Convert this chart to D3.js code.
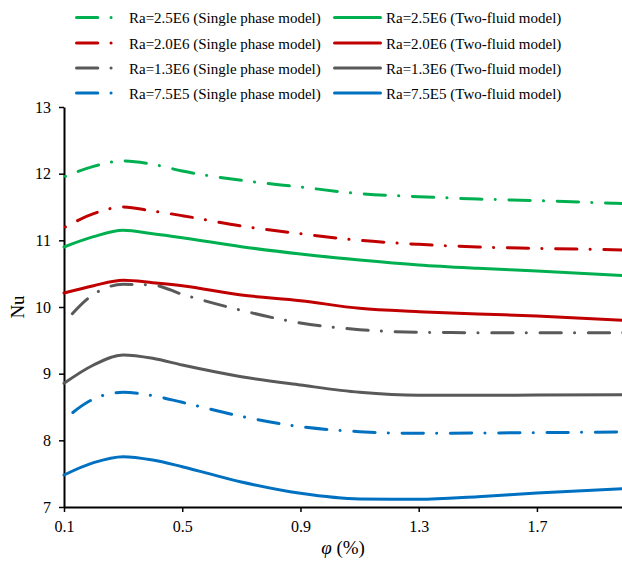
<!DOCTYPE html>
<html>
<head>
<meta charset="utf-8">
<script src="https://cdn.jsdelivr.net/npm/d3@7"></script>
<style>
  body { margin: 0; background: #fff; }
  svg { display: block; }
  text { font-family: "Liberation Serif", "Times New Roman", serif; fill: #000; }
</style>
</head>
<body>
<svg id="chart" width="622" height="562"></svg>
<script>
// Volume fraction (%) at which Nu was evaluated
const phi = [0.1, 0.2, 0.3, 0.4, 0.5, 0.7, 0.9, 1.1, 1.3, 1.5, 1.7, 2.0];

// Single phase model
const single25E6 = [11.95, 12.11, 12.19, 12.14, 12.04, 11.90, 11.80, 11.70, 11.655, 11.62, 11.595, 11.55];
const single20E6 = [11.19, 11.40, 11.50, 11.44, 11.37, 11.215, 11.10, 11.00, 10.94, 10.90, 10.88, 10.855];
const single13E6 = [9.76, 10.19, 10.34, 10.33, 10.19, 9.95, 9.76, 9.66, 9.62, 9.615, 9.615, 9.615];
const single75E5 = [8.31, 8.62, 8.72, 8.67, 8.57, 8.36, 8.205, 8.13, 8.105, 8.11, 8.115, 8.125];

// Two-fluid model
const twoFluid25E6 = [10.90, 11.055, 11.15, 11.10, 11.04, 10.905, 10.795, 10.705, 10.63, 10.58, 10.54, 10.47];
const twoFluid20E6 = [10.21, 10.32, 10.40, 10.365, 10.32, 10.18, 10.095, 9.98, 9.93, 9.895, 9.865, 9.80];
const twoFluid13E6 = [8.855, 9.13, 9.28, 9.23, 9.13, 8.955, 8.83, 8.72, 8.675, 8.675, 8.68, 8.685];
const twoFluid75E5 = [7.48, 7.665, 7.755, 7.705, 7.605, 7.375, 7.205, 7.12, 7.115, 7.155, 7.21, 7.275];

const raLabels = ["2.5E6", "2.0E6", "1.3E6", "7.5E5"];
const colors = ["#00B050", "#C00000", "#595959", "#0070C0"];
const singleSeries = [single25E6, single20E6, single13E6, single75E5];
const twoFluidSeries = [twoFluid25E6, twoFluid20E6, twoFluid13E6, twoFluid75E5];
// where each dash-dot pattern begins along its curve
const dashOffsets = [33, 33, 36, 37];

const xTicks = [0.1, 0.5, 0.9, 1.3, 1.7];
const yTicks = [7, 8, 9, 10, 11, 12, 13];

const svg = d3.select("#chart");

const x = d3.scaleLinear().domain([0.1, 2.0]).range([64, 625.6]);
const y = d3.scaleLinear().domain([7, 13]).range([507, 107]);

const dashArray = "21.3,13.2,0.1,13.7";
const lineW = 3;

// Axes
const yAxis = svg.append("g")
  .attr("transform", `translate(${x(0.1)},0)`)
  .call(d3.axisLeft(y).tickValues(yTicks).tickSize(5).tickSizeOuter(0).tickPadding(8).tickFormat(d3.format("d")));
const xAxis = svg.append("g")
  .attr("transform", `translate(0,${y(7)})`)
  .call(d3.axisBottom(x).tickValues(xTicks).tickSize(5).tickSizeOuter(0).tickPadding(9).tickFormat(d3.format(".1f")));

[xAxis, yAxis].forEach(g => {
  g.select(".domain").attr("stroke", "#000").attr("stroke-width", 2);
  g.selectAll(".tick line").attr("stroke", "#000").attr("stroke-width", 1.5);
  g.selectAll(".tick text")
    .attr("font-family", "Liberation Serif, Times New Roman, serif")
    .attr("font-size", 16).attr("fill", "#000");
});

// Axis titles
svg.append("text")
  .attr("transform", `translate(24,${307}) rotate(-90)`)
  .attr("text-anchor", "middle")
  .attr("font-size", 19)
  .text("Nu");

const xt = svg.append("text")
  .attr("x", 343).attr("y", 554)
  .attr("text-anchor", "middle")
  .attr("font-size", 19);
xt.append("tspan").attr("font-style", "italic").text("φ");
xt.append("tspan").text(" (%)");

// Curves
const line = d3.line()
  .x((d, i) => x(phi[i]))
  .y(d => y(d))
  .curve(d3.curveMonotoneX);

const plot = svg.append("g").attr("fill", "none").attr("stroke-linecap", "round");

twoFluidSeries.forEach((s, k) => {
  plot.append("path")
    .attr("d", line(s))
    .attr("stroke", colors[k])
    .attr("stroke-width", lineW);
});
singleSeries.forEach((s, k) => {
  plot.append("path")
    .attr("d", line(s))
    .attr("stroke", colors[k])
    .attr("stroke-width", lineW)
    .attr("stroke-dasharray", dashArray)
    .attr("stroke-dashoffset", dashOffsets[k]);
});

// Legend
const legend = svg.append("g");
const rowY = [17.5, 43, 68, 93];
raLabels.forEach((r, k) => {
  const g = legend.append("g").attr("transform", `translate(0,${rowY[k]})`);
  g.append("line")
    .attr("x1", 76.5).attr("x2", 124).attr("y1", 0).attr("y2", 0)
    .attr("stroke", colors[k]).attr("stroke-width", lineW)
    .attr("stroke-linecap", "round")
    .attr("stroke-dasharray", dashArray);
  g.append("text").attr("x", 129).attr("y", 5.5).attr("font-size", 15)
    .text(`Ra=${r} (Single phase model)`);
  g.append("line")
    .attr("x1", 334.5).attr("x2", 380.5).attr("y1", 0).attr("y2", 0)
    .attr("stroke", colors[k]).attr("stroke-width", lineW)
    .attr("stroke-linecap", "round");
  g.append("text").attr("x", 386).attr("y", 5.5).attr("font-size", 15)
    .text(`Ra=${r} (Two-fluid model)`);
});
</script>
</body>
</html>
